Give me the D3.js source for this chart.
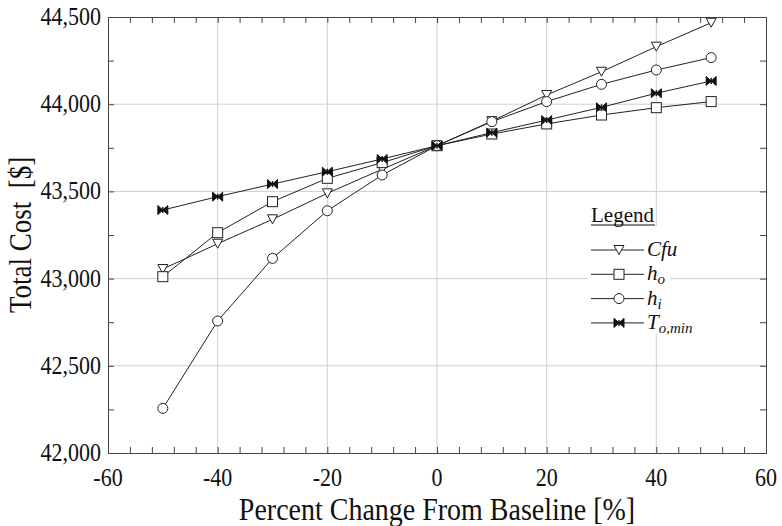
<!DOCTYPE html>
<html>
<head>
<meta charset="utf-8">
<script src="https://cdn.jsdelivr.net/npm/d3@7/dist/d3.min.js"></script>
<style>
  html, body { margin: 0; padding: 0; background: #fff; }
  svg { display: block; }
</style>
</head>
<body>
<svg id="chart" width="782" height="526"></svg>
<script>
// Percent change applied to each parameter
const pctChange = [-50, -40, -30, -20, -10, 0, 10, 20, 30, 40, 50];

// Total cost [$] for each sensitivity sweep
const costCfu  = [43055, 43200, 43340, 43489, 43627, 43762, 43903, 44053, 44186, 44330, 44467];
const costHo   = [43011, 43263, 43441, 43575, 43665, 43762, 43829, 43887, 43938, 43980, 44015];
const costHi   = [42256, 42757, 43116, 43389, 43594, 43762, 43900, 44015, 44114, 44196, 44267];
const costTmin = [43393, 43470, 43542, 43613, 43686, 43762, 43837, 43909, 43982, 44063, 44133];

// Axis ticks
const xTicks = [-60, -40, -20, 0, 20, 40, 60];
const yTicks = [42000, 42500, 43000, 43500, 44000, 44500];

const series = [
  { key: "Cfu",  values: costCfu,  marker: "tri" },
  { key: "ho",   values: costHo,   marker: "square" },
  { key: "hi",   values: costHi,   marker: "circle" },
  { key: "Tmin", values: costTmin, marker: "bowtie" }
];

const SERIF = "'Liberation Serif', serif";
const STRETCH = 1.15; // tall serif lettering for axis text
const svg = d3.select("#chart");
const m = { left: 108, right: 766, top: 17, bottom: 453 };

const x = d3.scaleLinear().domain([-60, 60]).range([m.left, m.right]);
const y = d3.scaleLinear().domain([42000, 44500]).range([m.bottom, m.top]);

// Grid lines at major ticks
const grid = svg.append("g");
grid.selectAll(".gx").data(xTicks.slice(1, -1)).join("line")
  .attr("x1", d => x(d)).attr("x2", d => x(d))
  .attr("y1", m.top).attr("y2", m.bottom)
  .attr("stroke", "#cfcfcf").attr("stroke-width", 1);
grid.selectAll(".gy").data(yTicks.slice(1, -1)).join("line")
  .attr("x1", m.left).attr("x2", m.right)
  .attr("y1", d => y(d)).attr("y2", d => y(d))
  .attr("stroke", "#cfcfcf").attr("stroke-width", 1);

// Frame axes with inward ticks
const fmt = d3.format(",");
const xMinor = d3.range(-60, 61, 4);
const yMinor = d3.range(42000, 44501, 250);

const axB = d3.axisBottom(x).tickValues(xMinor).tickSize(-6).tickFormat("");
const axT = d3.axisTop(x).tickValues(xMinor).tickSize(-6).tickFormat("");
const axL = d3.axisLeft(y).tickValues(yMinor).tickSize(-6).tickFormat("");
const axR = d3.axisRight(y).tickValues(yMinor).tickSize(-6).tickFormat("");

function styleAxis(g) {
  g.selectAll("path, line").attr("stroke", "#444").attr("stroke-width", 1);
}
svg.append("g").attr("transform", `translate(0,${m.bottom})`).call(axB).call(styleAxis);
svg.append("g").attr("transform", `translate(0,${m.top})`).call(axT).call(styleAxis);
svg.append("g").attr("transform", `translate(${m.left},0)`).call(axL).call(styleAxis);
svg.append("g").attr("transform", `translate(${m.right},0)`).call(axR).call(styleAxis);

// Tick labels
svg.append("g").selectAll("text").data(xTicks).join("text")
  .attr("transform", d => `translate(${x(d)},${m.bottom + 33}) scale(1,${STRETCH})`)
  .attr("font-family", SERIF)
  .attr("text-anchor", "middle").attr("font-size", 22).attr("fill", "#111")
  .text(d => d);
svg.append("g").selectAll("text").data(yTicks).join("text")
  .attr("transform", d => `translate(${m.left - 7},${y(d) + 8}) scale(1,${STRETCH})`)
  .attr("font-family", SERIF)
  .attr("text-anchor", "end").attr("font-size", 22).attr("fill", "#111")
  .text(d => fmt(d));

// Axis titles
svg.append("text")
  .attr("transform", `translate(${x(0)},520) scale(1,${STRETCH})`)
  .attr("font-family", SERIF)
  .attr("text-anchor", "middle").attr("font-size", 28).attr("fill", "#111")
  .text("Percent Change From Baseline [%]");
svg.append("text")
  .attr("transform", `translate(31,${(m.top + m.bottom) / 2}) rotate(-90) scale(1,${STRETCH})`)
  .attr("font-family", SERIF)
  .attr("text-anchor", "middle").attr("font-size", 27).attr("fill", "#111")
  .attr("xml:space", "preserve")
  .text("Total Cost  [$]");

// Marker shapes
function drawMarker(g, type) {
  if (type === "tri") {
    g.append("path").attr("d", "M-5,-4.5 L5,-4.5 L0,4.5 Z")
      .attr("fill", "#fff").attr("stroke", "#222").attr("stroke-width", 1);
  } else if (type === "square") {
    g.append("rect").attr("x", -5).attr("y", -5).attr("width", 10).attr("height", 10)
      .attr("fill", "#fff").attr("stroke", "#222").attr("stroke-width", 1);
  } else if (type === "circle") {
    g.append("circle").attr("r", 5)
      .attr("fill", "#fff").attr("stroke", "#222").attr("stroke-width", 1);
  } else {
    g.append("path").attr("d", "M-5,-4.5 L0,0 L-5,4.5 Z M5,-4.5 L0,0 L5,4.5 Z")
      .attr("fill", "#111").attr("stroke", "#111").attr("stroke-width", 1);
    g.append("line").attr("x1", 0).attr("x2", 0).attr("y1", -3).attr("y2", 3)
      .attr("stroke", "#111").attr("stroke-width", 1.5);
  }
}

const line = d3.line().x((d, i) => x(pctChange[i])).y(d => y(d));

const plot = svg.append("g");
series.forEach(s => {
  plot.append("path").datum(s.values)
    .attr("d", line).attr("fill", "none")
    .attr("stroke", "#222").attr("stroke-width", 1);
});
series.forEach(s => {
  s.values.forEach((v, i) => {
    const g = plot.append("g").attr("transform", `translate(${x(pctChange[i])},${y(v)})`);
    drawMarker(g, s.marker);
  });
});

// Legend
const lg = svg.append("g");
lg.append("rect").attr("x", 588).attr("y", 226).attr("width", 82).attr("height", 108).attr("fill", "#fff");
lg.append("text").attr("x", 591).attr("y", 222).attr("font-family", SERIF)
  .attr("font-size", 21).attr("fill", "#111").text("Legend");
lg.append("line").attr("x1", 591).attr("x2", 655).attr("y1", 225).attr("y2", 225)
  .attr("stroke", "#111").attr("stroke-width", 1.2);

const legendRows = [
  { marker: "tri",    main: "Cfu", sub: null },
  { marker: "square", main: "h",   sub: "o" },
  { marker: "circle", main: "h",   sub: "i" },
  { marker: "bowtie", main: "T",   sub: "o,min" }
];
legendRows.forEach((r, i) => {
  const yy = 250 + i * 24.3;
  lg.append("line").attr("x1", 591).attr("x2", 644).attr("y1", yy).attr("y2", yy)
    .attr("stroke", "#222").attr("stroke-width", 1);
  drawMarker(lg.append("g").attr("transform", `translate(619,${yy})`), r.marker);
  const t = lg.append("text").attr("x", 647).attr("y", yy + 6)
    .attr("font-family", SERIF)
    .attr("font-size", 21).attr("font-style", "italic").attr("fill", "#111");
  t.append("tspan").text(r.main);
  if (r.sub) t.append("tspan").attr("font-size", 15).attr("dy", 4).text(r.sub);
});
</script>
</body>
</html>
